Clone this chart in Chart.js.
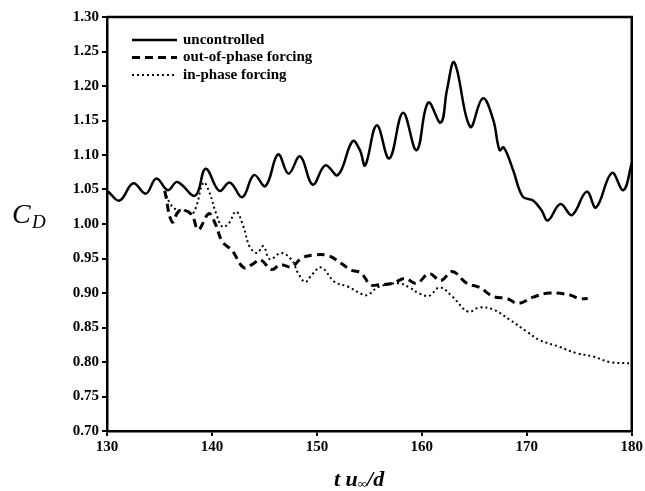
<!DOCTYPE html>
<html>
<head>
<meta charset="utf-8">
<script src="https://cdn.jsdelivr.net/npm/chart.js@4"></script>
<style>
html,body{margin:0;padding:0;background:#fff;}
#wrap{width:645px;height:491px;}
</style>
</head>
<body>
<div id="wrap"><canvas id="c" width="645" height="491"></canvas></div>
<script>
const seriesLabels = ["uncontrolled", "out-of-phase forcing", "in-phase forcing"];

const tUnc = [130.1,131.2,132.5,133.7,134.7,135.8,136.7,138.4,139.4,140.7,141.7,142.9,144.0,145.1,146.3,147.3,148.4,149.6,150.8,152.0,153.4,154.1,154.6,155.7,156.9,158.2,159.5,160.6,161.8,162.4,163.1,164.6,165.8,166.8,167.4,167.8,168.7,169.6,170.6,171.4,172.0,173.2,174.3,175.7,176.6,178.1,179.2,180.0];
const cdUnc = [1.047,1.034,1.059,1.044,1.066,1.049,1.061,1.041,1.080,1.048,1.060,1.039,1.071,1.055,1.101,1.073,1.098,1.057,1.085,1.071,1.120,1.107,1.085,1.143,1.095,1.161,1.107,1.176,1.147,1.195,1.234,1.141,1.182,1.151,1.107,1.111,1.078,1.040,1.034,1.020,1.005,1.029,1.013,1.047,1.024,1.074,1.049,1.088];

const tOut = [135.5,136.2,136.8,137.4,138.1,138.7,139.7,140.3,141.0,141.9,143.0,143.8,144.6,145.7,146.5,147.6,148.5,149.6,151.1,152.3,153.3,154.2,155.1,155.9,157.2,158.4,159.5,160.7,161.8,162.9,164.3,165.5,166.8,168.1,169.2,170.6,172.2,174.1,175.0,175.8];
const cdOut = [1.048,1.003,1.018,1.020,1.013,0.992,1.015,1.001,0.974,0.962,0.937,0.941,0.948,0.934,0.941,0.938,0.950,0.955,0.954,0.943,0.933,0.929,0.912,0.912,0.914,0.921,0.914,0.928,0.918,0.931,0.914,0.908,0.895,0.892,0.885,0.894,0.900,0.897,0.892,0.892];

const tIn = [135.5,136.0,136.6,137.3,138.1,138.5,139.2,139.8,140.4,141.0,141.6,142.3,143.0,143.6,144.3,144.9,145.5,146.6,147.6,148.2,148.9,149.5,150.4,151.7,153.0,154.2,154.8,155.9,157.8,158.8,159.8,160.7,161.7,162.9,164.4,165.5,166.8,168.4,170.0,171.2,173.1,174.7,176.3,177.9,180.0];
const cdIn = [1.048,1.030,1.021,1.020,1.015,1.025,1.060,1.044,1.015,0.996,1.001,1.018,0.996,0.967,0.958,0.968,0.949,0.958,0.948,0.929,0.916,0.926,0.937,0.916,0.909,0.899,0.897,0.909,0.914,0.908,0.899,0.896,0.908,0.895,0.873,0.879,0.876,0.861,0.844,0.832,0.822,0.813,0.808,0.800,0.798];

const xTicks = [130,140,150,160,170,180];
const yTicks = [0.70,0.75,0.80,0.85,0.90,0.95,1.00,1.05,1.10,1.15,1.20,1.25,1.30];

function pts(xs, ys){ return xs.map((x,i)=>({x:x, y:ys[i]})); }

const serif = "'Liberation Serif','DejaVu Serif',serif";

const boxPlugin = {
  id:'box',
  afterDraw(chart){
    const {ctx, chartArea:a} = chart;
    ctx.save();
    ctx.strokeStyle='#000'; ctx.lineWidth=2.5;
    ctx.beginPath();
    ctx.moveTo(a.left, a.top); ctx.lineTo(a.right, a.top); ctx.lineTo(a.right, a.bottom);
    ctx.stroke();
    // y-axis title C_D
    ctx.fillStyle='#000';
    ctx.textBaseline='alphabetic';
    ctx.textAlign='left';
    ctx.font="italic 28px "+serif;
    ctx.fillText("C", 12, 223);
    ctx.font="italic 19px "+serif;
    ctx.fillText("D", 32, 228);
    // x-axis title: t u∞/d with small subscript ∞
    const base = 486;
    let x = 334;
    ctx.font="italic bold 22px "+serif;
    ctx.fillText("t u", x, base);
    x += ctx.measureText("t u").width;
    ctx.font="bold 13px "+serif;
    ctx.fillText("\u221E", x, base + 2);
    x += ctx.measureText("\u221E").width;
    ctx.font="italic bold 22px "+serif;
    ctx.fillText("/d", x, base);
    // legend
    const ds = chart.data.datasets;
    const y0 = 40, dy = 17.5;
    ds.forEach((d,i)=>{
      const y = y0 + i*dy;
      ctx.beginPath();
      ctx.setLineDash(d.borderDash || []);
      ctx.lineWidth = d.borderWidth;
      ctx.strokeStyle = '#000';
      ctx.moveTo(132, y); ctx.lineTo(177, y);
      ctx.stroke();
      ctx.setLineDash([]);
      ctx.font="bold 15px "+serif;
      ctx.textAlign='left';
      ctx.textBaseline='middle';
      ctx.fillText(d.label, 183, y);
    });
    ctx.restore();
  }
};

new Chart(document.getElementById('c'), {
  type:'line',
  data:{
    datasets:[
      {label:seriesLabels[0], data:pts(tUnc,cdUnc), borderColor:'#000', borderWidth:2.5, pointRadius:0, tension:0.4, fill:false},
      {label:seriesLabels[1], data:pts(tOut,cdOut), borderColor:'#000', borderWidth:3, borderDash:[8,5], pointRadius:0, tension:0.4, fill:false},
      {label:seriesLabels[2], data:pts(tIn,cdIn), borderColor:'#000', borderWidth:2, borderDash:[2,3], pointRadius:0, tension:0.4, fill:false}
    ]
  },
  options:{
    responsive:false,
    animation:false,
    layout:{padding:{left:40, right:13, top:17, bottom:0}},
    plugins:{legend:{display:false}, tooltip:{enabled:false}},
    scales:{
      x:{
        type:'linear', min:130, max:180,
        afterBuildTicks(s){ s.ticks = xTicks.map(v=>({value:v})); },
        afterFit(s){ s.height = 60; },
        grid:{drawOnChartArea:false, tickLength:5, color:'#000', lineWidth:2},
        border:{color:'#000', width:2.5},
        ticks:{color:'#000', font:{family:serif, size:15, weight:'bold'}, padding:2, maxRotation:0,
          callback:v=>String(v)}
      },
      y:{
        min:0.70, max:1.30,
        afterBuildTicks(s){ s.ticks = yTicks.map(v=>({value:v})); },
        afterFit(s){ s.width = 67; },
        grid:{drawOnChartArea:false, tickLength:5, color:'#000', lineWidth:2},
        border:{color:'#000', width:2.5},
        ticks:{color:'#000', font:{family:serif, size:15, weight:'bold'}, padding:3,
          callback:v=>Number(v).toFixed(2)}
      }
    }
  },
  plugins:[boxPlugin]
});
</script>
</body>
</html>
